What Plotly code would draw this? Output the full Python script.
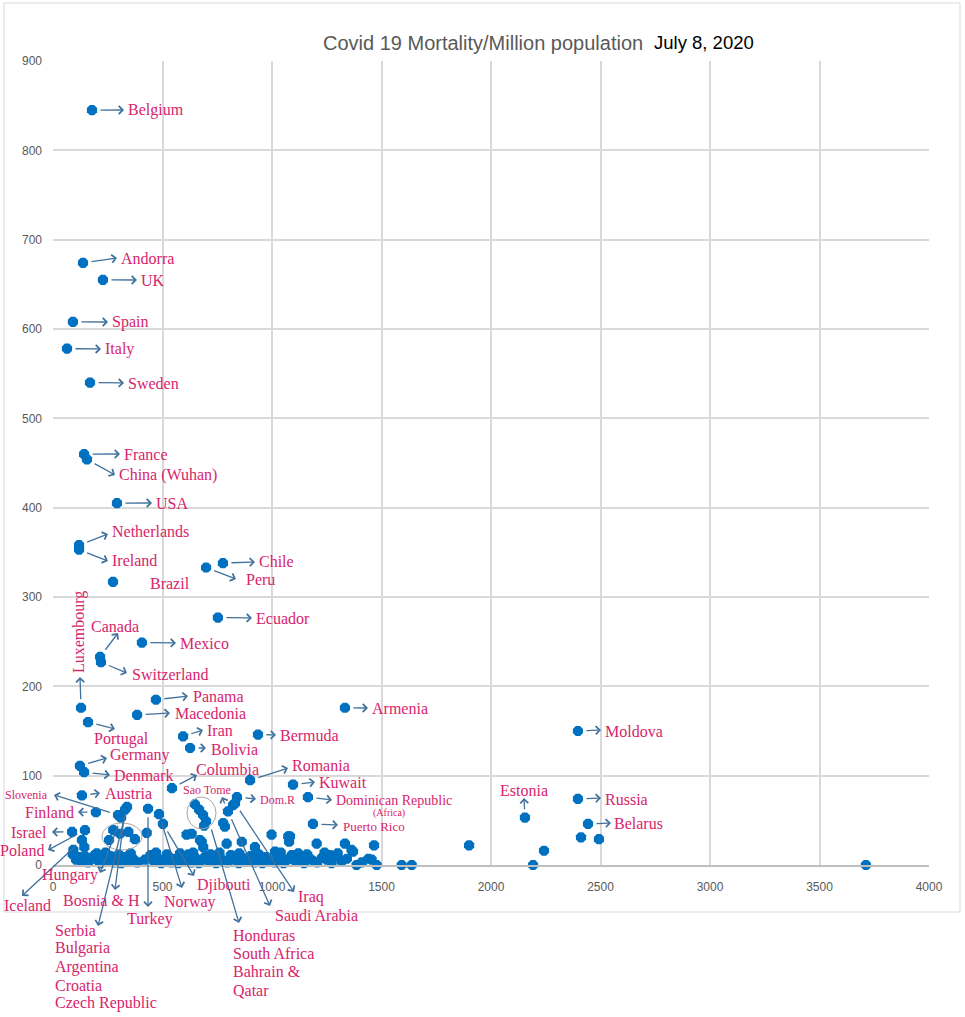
import plotly.graph_objects as go

# Countries that carry a label (x value, deaths per million)
named_countries = [
    "Belgium", "Andorra", "UK", "Spain", "Italy", "Sweden", "France", "China (Wuhan)",
    "USA", "Netherlands", "Ireland", "Brazil", "Chile", "Peru", "Ecuador", "Mexico",
    "Canada", "Switzerland", "Luxembourg", "Panama", "Macedonia", "Portugal", "Iran",
    "Bolivia", "Bermuda", "Armenia", "Moldova", "Germany", "Denmark", "Romania",
    "Columbia", "Kuwait", "Austria", "Dominican Republic", "Dom.R", "Russia", "Estonia",
    "Belarus", "Puerto Rico", "Finland", "Israel", "Poland", "Iceland", "Slovenia",
    "Hungary", "Bosnia & H", "Serbia", "Turkey", "Norway", "Djibouti", "Sao Tome", "Iraq",
]
named_x = [
    178, 137, 228, 91, 64, 169, 142, 155,
    292, 119, 119, 274, 776, 699, 753, 406,
    215, 219, 128, 470, 384, 160, 594,
    626, 936, 1333, 2397, 123, 142, 900,
    543, 1096, 132, 1164, 840, 2397, 2155,
    2443, 1187, 196, 87, 146, 132, 297,
    311, 329, 338, 434, 484, 502, 799, 831,
]
named_y = [
    845, 674, 655, 608, 578, 540, 460, 454,
    405, 358, 353, 317, 338, 333, 277, 249,
    233, 227, 176, 185, 168, 160, 144,
    131, 146, 176, 150, 111, 104, 95,
    86, 90, 78, 76, 76, 74, 53,
    46, 46, 59, 37, 39, 28, 56,
    53, 62, 65, 63, 57, 46, 60, 69,
]

# Remaining countries without a label
other_x = [
    306, 275, 306, 344, 256, 374, 428, 93, 143, 610, 633, 679, 686, 671,
    862, 922, 998, 1074, 1078, 1014, 793, 785, 777, 822, 1204, 1251, 1265,
    1333, 1363, 1370, 1440, 1466, 1082, 648, 667, 685, 699, 690,
    1900, 2242, 2192, 2411, 2493, 3712, 1386, 1478, 1592, 1638,
    90, 105, 118, 131, 146, 160, 175, 190, 205, 218, 232, 246, 262, 280,
    296, 312, 330, 348, 366, 385, 420, 445, 462, 478, 494, 510, 526, 541,
    556, 572, 588, 603, 618, 634, 650, 666, 682, 697, 713, 729, 745, 761,
    777, 795, 812, 830, 848, 866, 884, 902, 920, 938, 956, 974, 992, 1012,
    1032, 1052, 1070, 1090, 1108, 1128, 1146, 1166, 1186, 1206, 1228, 1250,
    1272, 1296, 1318, 1342, 1410, 1455,
    200, 240, 300, 355, 470, 520, 580, 640, 720, 760, 850, 940, 1040, 1120,
    1160, 1240, 1300,
]
other_y = [
    54, 39, 35, 37, 28, 29, 36, 17, 20, 34, 35, 26, 20, 28,
    26, 20, 34, 32, 26, 15, 24, 43, 47, 67, 24, 11, 11,
    24, 17, 15, 7, 22, 32, 68, 62, 56, 49, 44,
    22, 16, 0, 31, 29, 0, 0, 0, 0, 0,
    12, 6, 9, 4, 10, 3, 7, 11, 5, 2, 8, 4, 10, 3,
    6, 2, 9, 4, 7, 3, 6, 11, 4, 8, 2, 6, 10, 3,
    7, 2, 9, 5, 12, 3, 8, 2, 6, 10, 4, 7, 2, 9,
    5, 3, 11, 6, 2, 8, 4, 10, 3, 7, 2, 9, 5, 3,
    8, 2, 6, 11, 4, 7, 2, 9, 5, 3, 8, 6,
    2, 10, 4, 7, 3, 6,
    13, 14, 12, 13, 14, 12, 13, 14, 12, 14, 13, 12, 14, 13,
    12, 14, 13,
]

x_ticks = [0, 500, 1000, 1500, 2000, 2500, 3000, 3500, 4000]
y_ticks = [0, 100, 200, 300, 400, 500, 600, 700, 800, 900]

# plot frame in page pixels
PAGE_W, PAGE_H = 965, 1017
L, T, W, H = 53, 61, 876, 804
X_MAX, Y_MAX = 4000, 900

LABEL = "#D8246C"
ARROW = "#41719C"
SERIF = "Liberation Serif"


def to_data(px, py):
    return (px - L) / W * X_MAX, (T + H - py) / H * Y_MAX


def to_paper(px, py):
    return (px - L) / W, (T + H - py) / H


# arrows: tail (country or page pixel), head in page pixels
arrows = [
    ("Belgium", (124, 110)), ("Andorra", (117, 258)), ("UK", (137, 280)),
    ("Spain", (108, 322)), ("Italy", (101, 349)), ("Sweden", (124, 383)),
    ("France", (120, 454)), ("China (Wuhan)", (115, 475)), ("USA", (152, 503)),
    ("Netherlands", (108, 534)), ("Ireland", (108, 561)), ("Chile", (255, 562)),
    ("Peru", (236, 579)), ("Ecuador", (252, 618)), ("Mexico", (176, 643)),
    ("Canada", (118, 633)), ("Switzerland", (127, 673)), ("Luxembourg", (80, 677)),
    ("Panama", (188, 696)), ("Macedonia", (170, 713)), ("Portugal", (115, 729)),
    ("Iran", (203, 730)), ("Bolivia", (206, 748)), ("Bermuda", (276, 735)),
    ("Armenia", (368, 708)), ("Moldova", (601, 730)), ("Germany", (107, 758)),
    ("Denmark", (110, 775)), ("Columbia", (197, 775)), ("Romania", (288, 768)),
    ("Kuwait", (315, 782)), ("Dominican Republic", (332, 800)), ("Dom.R", (256, 799)),
    ("Russia", (601, 798)), ("Estonia", (524, 798)), ("Belarus", (611, 823)),
    ("Puerto Rico", (338, 825)), ("Austria", (100, 793)), ("Finland", (78, 812)),
    ("Israel", (52, 832)), ("Poland", (48, 850)), ("Iceland", (22, 896)),
    ("Slovenia", (54, 795)), ("Hungary", (100, 873)), ("Bosnia & H", (115, 890)),
    ("Serbia", (98, 926)), ("Turkey", (148, 907)), ("Norway", (182, 888)),
    ("Djibouti", (194, 876)), ("Sao Tome", (222, 797)), ("Sao Tome", (270, 906)),
    ("Iraq", (294, 892)), ((211, 828), (239, 923)),
]

# text labels: text, page x, page y, anchor, size, angle
labels = [
    ("Belgium", 126, 110, "left", 16, 0), ("Andorra", 119, 258, "left", 16, 0),
    ("UK", 139, 280, "left", 16, 0), ("Spain", 110, 322, "left", 16, 0),
    ("Italy", 103, 349, "left", 16, 0), ("Sweden", 126, 383, "left", 16, 0),
    ("France", 122, 454, "left", 16, 0), ("China (Wuhan)", 117, 475, "left", 16, 0),
    ("USA", 154, 503, "left", 16, 0), ("Netherlands", 110, 531, "left", 16, 0),
    ("Ireland", 110, 560, "left", 16, 0), ("Brazil", 148, 583, "left", 16, 0),
    ("Chile", 257, 561, "left", 16, 0), ("Peru", 244, 579, "left", 16, 0),
    ("Ecuador", 254, 618, "left", 16, 0), ("Mexico", 178, 643, "left", 16, 0),
    ("Canada", 115, 626, "center", 16, 0), ("Switzerland", 130, 674, "left", 16, 0),
    ("Luxembourg", 79, 632, "center", 16, -90), ("Panama", 191, 696, "left", 16, 0),
    ("Macedonia", 173, 713, "left", 16, 0), ("Portugal", 121, 739, "center", 16, 0),
    ("Iran", 205, 730, "left", 16, 0), ("Bolivia", 209, 749, "left", 16, 0),
    ("Bermuda", 278, 735, "left", 16, 0), ("Armenia", 370, 708, "left", 16, 0),
    ("Moldova", 603, 731, "left", 16, 0), ("Germany", 108, 755, "left", 16, 0),
    ("Denmark", 112, 775, "left", 16, 0), ("Columbia", 194, 769, "left", 16, 0),
    ("Romania", 290, 765, "left", 16, 0), ("Kuwait", 317, 782, "left", 16, 0),
    ("Dominican Republic", 334, 800, "left", 14, 0), ("(Africa)", 389, 813, "center", 10, 0),
    ("Dom.R", 258, 800, "left", 12, 0), ("Sao Tome", 207, 790, "center", 12, 0),
    ("Russia", 603, 799, "left", 16, 0), ("Estonia", 524, 790, "center", 16, 0),
    ("Belarus", 612, 823, "left", 16, 0), ("Puerto Rico", 341, 826, "left", 13, 0),
    ("Austria", 103, 793, "left", 16, 0), ("Slovenia", 50, 795, "right", 12, 0),
    ("Finland", 76, 812, "right", 16, 0), ("Israel", 49, 832, "right", 16, 0),
    ("Poland", 46, 850, "right", 16, 0), ("Iceland", 27, 905, "center", 16, 0),
    ("Hungary", 70, 875, "center", 16, 0), ("Bosnia & H", 101, 900, "center", 16, 0),
    ("Serbia", 53, 930, "left", 16, 0), ("Bulgaria", 53, 948, "left", 16, 0),
    ("Argentina", 53, 967, "left", 16, 0), ("Croatia", 53, 985, "left", 16, 0),
    ("Czech Republic", 53, 1003, "left", 16, 0), ("Turkey", 150, 919, "center", 16, 0),
    ("Norway", 190, 902, "center", 16, 0), ("Djibouti", 224, 885, "center", 16, 0),
    ("Honduras", 231, 935, "left", 16, 0), ("South Africa", 231, 953, "left", 16, 0),
    ("Bahrain &", 231, 972, "left", 16, 0), ("Qatar", 231, 990, "left", 16, 0),
    ("Saudi Arabia", 273, 915, "left", 16, 0), ("Iraq", 296, 897, "left", 16, 0),
]

# grey ellipses around small clusters (page pixels)
ellipses = [(102, 823, 142, 850), (187, 797, 216, 829)]

fig = go.Figure()
fig.add_trace(go.Scatter(
    x=named_x + other_x,
    y=named_y + other_y,
    mode="markers",
    marker=dict(symbol="octagon", size=11, color="#0070C0"),
    cliponaxis=False,
    showlegend=False,
    hoverinfo="skip",
))

lookup = {n: (x, y) for n, x, y in zip(named_countries, named_x, named_y)}

for tail, head in arrows:
    if isinstance(tail, str):
        tx, ty = lookup[tail]
        gap = 7
    else:
        tx, ty = to_data(*tail)
        gap = 0
    hx, hy = to_data(*head)
    fig.add_annotation(
        x=hx, y=hy, xref="x", yref="y",
        ax=tx, ay=ty, axref="x", ayref="y",
        text="", showarrow=True, arrowhead=4, arrowsize=1.2,
        arrowwidth=1.3, arrowcolor=ARROW, startstandoff=gap, standoff=0,
    )

for text, px, py, anchor, size, angle in labels:
    xp, yp = to_paper(px, py)
    fig.add_annotation(
        x=xp, y=yp, xref="paper", yref="paper", text=text, showarrow=False,
        xanchor=anchor, yanchor="middle", textangle=angle,
        font=dict(family=SERIF, size=size, color=LABEL),
    )

for x0, y0, x1, y1 in ellipses:
    a0, b0 = to_paper(x0, y1)
    a1, b1 = to_paper(x1, y0)
    fig.add_shape(type="circle", xref="paper", yref="paper",
                  x0=a0, y0=b0, x1=a1, y1=b1,
                  line=dict(color="#A6A6A6", width=1))

# outer chart frame
fx0, fy0 = to_paper(4, 912)
fx1, fy1 = to_paper(960, 3)
fig.add_shape(type="rect", xref="paper", yref="paper", layer="below",
              x0=fx0, y0=fy0, x1=fx1, y1=fy1,
              line=dict(color="#D9D9D9", width=1))

# title
tx, ty = to_paper(645, 30)
fig.add_annotation(x=tx, y=ty, xref="paper", yref="paper", showarrow=False,
                   text="Covid 19 Mortality/Million population", xanchor="right",
                   font=dict(family="Liberation Sans", size=20, color="#595959"))
tx, ty = to_paper(652, 30)
fig.add_annotation(x=tx, y=ty, xref="paper", yref="paper", showarrow=False,
                   text="July 8, 2020", xanchor="left",
                   font=dict(family="Liberation Sans", size=18.5, color="#000000"))

fig.update_layout(
    width=PAGE_W, height=PAGE_H,
    margin=dict(l=L, r=PAGE_W - L - W, t=T, b=PAGE_H - T - H),
    plot_bgcolor="white", paper_bgcolor="white",
    showlegend=False,
)
fig.update_xaxes(
    range=[0, X_MAX], tickvals=x_ticks, showgrid=True, gridcolor="#D9D9D9",
    gridwidth=2, zeroline=False, showline=True, linecolor="#BFBFBF", linewidth=2,
    tickfont=dict(family="Liberation Sans", size=12, color="#595959"),
    ticklabelstandoff=10, fixedrange=True,
)
fig.update_yaxes(
    range=[0, Y_MAX], tickvals=y_ticks, showgrid=True, gridcolor="#D9D9D9",
    gridwidth=2, zeroline=False,
    tickfont=dict(family="Liberation Sans", size=12, color="#595959"),
    ticklabelstandoff=10, fixedrange=True,
)

# drop the default 8px page margin so the figure fills the window exactly
fig.write_html("out.html", post_script="document.body.style.margin='0';",
               config={"displayModeBar": False})
